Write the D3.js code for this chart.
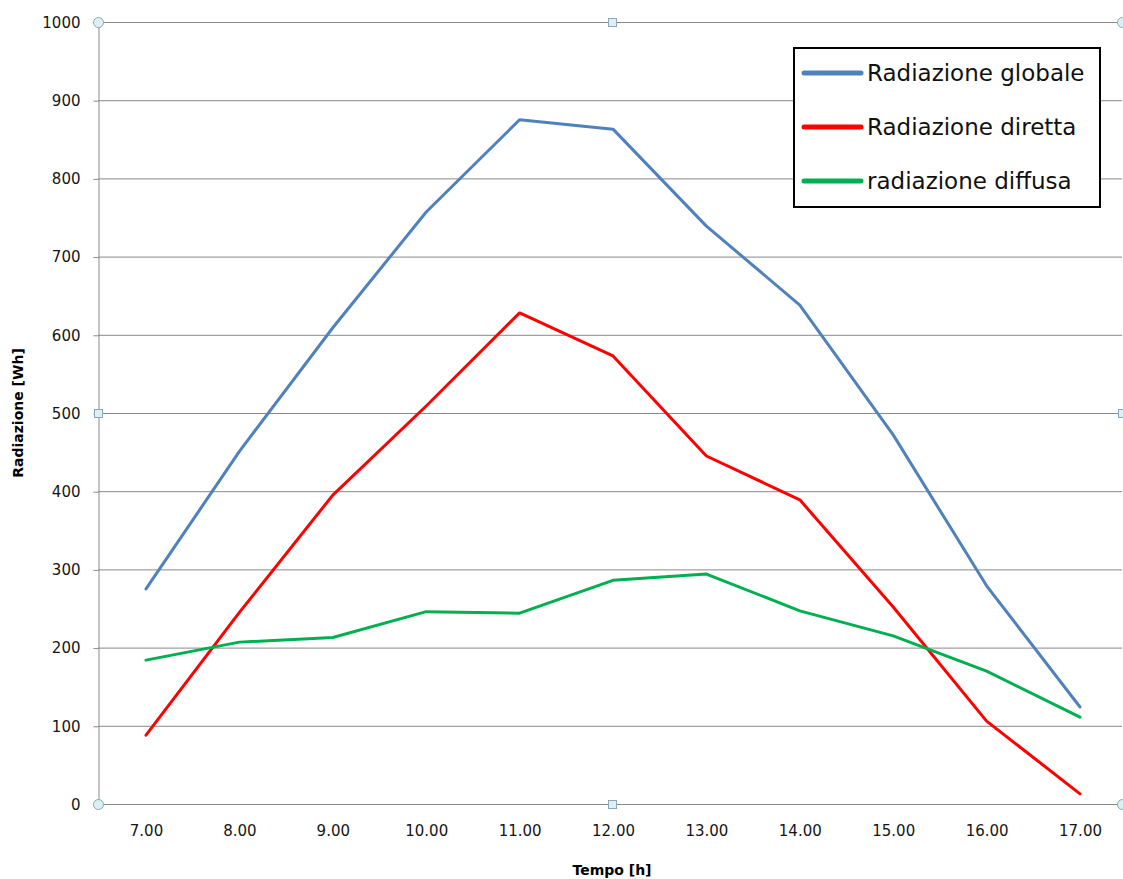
<!DOCTYPE html>
<meta charset="utf-8">
<style>
  body { margin: 0; background: #fff; }
  text { font-family: "DejaVu Sans", Tahoma, sans-serif; }
</style>
<svg width="1123" height="879"></svg>
<script src="https://cdn.jsdelivr.net/npm/d3@7"></script>
<script>
  // data
  var hours = ["7.00", "8.00", "9.00", "10.00", "11.00", "12.00", "13.00", "14.00", "15.00", "16.00", "17.00"];
  var globale = [275, 451, 609, 757, 875, 863, 739, 638, 472, 279, 124];
  var diretta = [88, 245, 395, 509, 628, 573, 445, 389, 252, 106, 13];
  var diffusa = [184, 207, 213, 246, 244, 286, 294, 247, 215, 170, 111];
  var yTicks = [0, 100, 200, 300, 400, 500, 600, 700, 800, 900, 1000];

  var series = [
    { name: "Radiazione globale", values: globale, color: "#4f81bd" },
    { name: "Radiazione diretta", values: diretta, color: "#ff0000" },
    { name: "radiazione diffusa", values: diffusa, color: "#00b050" }
  ];

  var svg = d3.select("svg");
  var pLeft = 98, pRight = 1122, pTop = 22, pBottom = 804;

  // category centres sit at 146 .. 1080 in the original
  var x = d3.scalePoint().domain(hours).range([146, 1080]);
  var y = d3.scaleLinear().domain([0, 1000]).range([pBottom, pTop]);

  // gridlines
  svg.append("g").selectAll("line").data(yTicks).enter().append("line")
    .attr("x1", pLeft).attr("x2", pRight)
    .attr("y1", function(d) { return y(d) + 0.5; })
    .attr("y2", function(d) { return y(d) + 0.5; })
    .attr("stroke", "#898989").attr("stroke-width", 1);

  // y axis
  var yAxis = svg.append("g").attr("transform", "translate(" + (pLeft + 0.5) + ",0.5)")
    .call(d3.axisLeft(y).tickValues(yTicks).tickSize(5).tickPadding(13).tickFormat(d3.format("d")));
  yAxis.select(".domain").attr("stroke", "#898989");
  yAxis.selectAll(".tick line").attr("stroke", "#898989");
  yAxis.selectAll("text").attr("font-size", 15).attr("fill", "#151515").attr("font-family", "DejaVu Sans, sans-serif");

  // x axis
  var xAxis = svg.append("g").attr("transform", "translate(0," + (pBottom + 0.5) + ")")
    .call(d3.axisBottom(x).tickSize(0).tickPadding(21));
  xAxis.select(".domain").remove();
  xAxis.selectAll("text").attr("font-size", 15).attr("fill", "#151515").attr("font-family", "DejaVu Sans, sans-serif");

  // lines
  var line = d3.line()
    .x(function(d, i) { return x(hours[i]); })
    .y(function(d) { return y(d); });

  svg.append("g").selectAll("path").data(series).enter().append("path")
    .attr("d", function(d) { return line(d.values); })
    .attr("fill", "none")
    .attr("stroke", function(d) { return d.color; })
    .attr("stroke-width", 3)
    .attr("stroke-linejoin", "round")
    .attr("stroke-linecap", "round");

  // axis titles
  svg.append("text").attr("x", 612).attr("y", 875)
    .attr("text-anchor", "middle").attr("font-size", 14).attr("font-weight", "bold")
    .text("Tempo [h]");
  svg.append("text").attr("transform", "translate(23,413) rotate(-90)")
    .attr("text-anchor", "middle").attr("font-size", 14).attr("font-weight", "bold")
    .text("Radiazione [Wh]");

  // legend
  var lg = svg.append("g");
  lg.append("rect").attr("x", 794).attr("y", 48).attr("width", 306).attr("height", 159)
    .attr("fill", "#fff").attr("stroke", "#000").attr("stroke-width", 2);
  var item = lg.selectAll("g.item").data(series).enter().append("g")
    .attr("transform", function(d, i) { return "translate(0," + (73 + i * 54) + ")"; });
  item.append("line").attr("x1", 804).attr("x2", 861).attr("y1", 0).attr("y2", 0)
    .attr("stroke", function(d) { return d.color; }).attr("stroke-width", 5).attr("stroke-linecap", "round");
  item.append("text").attr("x", 867).attr("y", 8)
    .attr("font-family", "Carlito, 'Open Sans', sans-serif").attr("font-size", 23).attr("fill", "#111")
    .text(function(d) { return d.name; });

  // selection handles
  var midX = (pLeft + pRight) / 2 + 2, midY = (pTop + pBottom) / 2;
  var handles = [
    { x: pLeft, y: pTop, shape: "c" }, { x: midX, y: pTop, shape: "s" }, { x: pRight, y: pTop, shape: "c" },
    { x: pLeft, y: midY, shape: "s" }, { x: pRight, y: midY, shape: "s" },
    { x: pLeft, y: pBottom, shape: "c" }, { x: midX, y: pBottom, shape: "s" }, { x: pRight, y: pBottom, shape: "c" }
  ];
  handles.forEach(function(h) {
    if (h.shape === "c") {
      svg.append("circle").attr("cx", h.x + 0.5).attr("cy", h.y + 0.5).attr("r", 5)
        .attr("fill", "#dcf0f4").attr("stroke", "#8aa7bd").attr("stroke-width", 1);
    } else {
      svg.append("rect").attr("x", h.x - 3.5).attr("y", h.y - 3.5).attr("width", 8).attr("height", 8)
        .attr("fill", "#dcf0f4").attr("stroke", "#8aa7bd").attr("stroke-width", 1);
    }
  });
</script>
